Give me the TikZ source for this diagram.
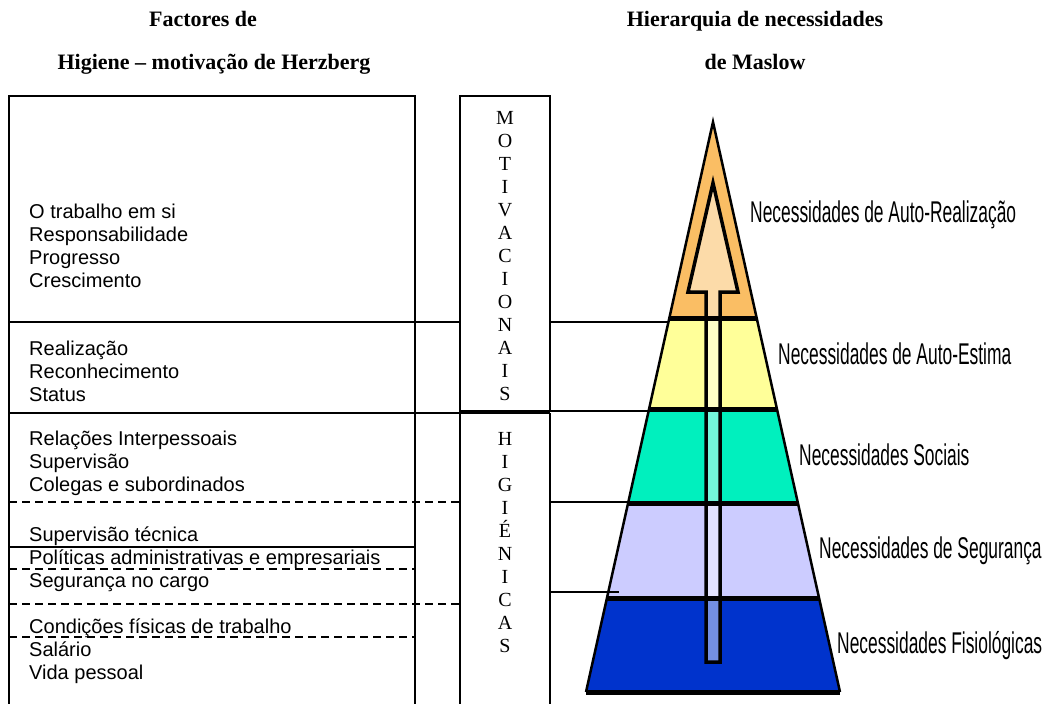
\documentclass[tikz,border=0pt]{standalone}
\usepackage{fontspec}
\setmainfont{Liberation Serif}
\newfontfamily\arialfont{Liberation Sans}
\newfontfamily\narrowfont[FakeStretch=0.58]{Liberation Sans}
\usetikzlibrary{calc}
\definecolor{mtop}{RGB}{250,190,100}
\definecolor{mesteem}{RGB}{255,255,153}
\definecolor{msocial}{RGB}{0,240,190}
\definecolor{msafe}{RGB}{204,204,255}
\definecolor{mbase}{RGB}{0,51,204}
\tikzset{
headline/.style={ % column titles
font=\bfseries\fontsize{22}{26}\selectfont,
anchor=base, inner sep=0pt},
factor/.style={ % Herzberg factor lists, placed by last baseline
font=\arialfont\fontsize{20}{23}\selectfont,
align=left, anchor=base west, inner sep=0pt},
vletters/.style={
font=\fontsize{20}{23}\selectfont,
align=center, anchor=base, inner sep=0pt},
need/.style={ % Maslow labels
font=\narrowfont\fontsize{30}{32}\selectfont,
anchor=base west, inner sep=0pt},
gridline/.style={line width=1.8pt},
dashline/.style={line width=1.8pt, dash pattern=on 8pt off 5pt}}

\begin{document}
\begin{tikzpicture}[x=1pt,y=-1pt]
\useasboundingbox (0,0) rectangle (1047,704);

\node[headline] (herz1) at (203,27) {Factores de};
\node[headline] (herz2) at (214,69) {Higiene -- motivação de Herzberg};
\node[headline] (mas1) at (755,27) {Hierarquia de necessidades};
\node[headline] (mas2) at (755,69) {de Maslow};

% Herzberg table
\draw[gridline] (9,704) -- (9,96) -- (415,96) -- (415,704);
\draw[gridline] (460,704) -- (460,96) -- (550,96) -- (550,411) -- (460,411);
\draw[gridline] (550,413) -- (550,704);
\draw[gridline] (9,322) -- (460,322);
\draw[gridline] (9,413) -- (550,413);
\draw[dashline] (9,502) -- (460,502);
\draw[gridline] (9,547) -- (415,547);
\draw[dashline] (9,569) -- (415,569);
\draw[dashline] (9,604) -- (460,604);
\draw[dashline] (9,637) -- (415,637);

\node[factor] (work) at (29,287) {O trabalho em si\\Responsabilidade\\Progresso\\Crescimento};
\node[factor] (recog) at (29,401) {Realização\\Reconhecimento\\Status};
\node[factor] (relat) at (29,491) {Relações Interpessoais\\Supervisão\\Colegas e subordinados};
\node[factor] (policy) at (29,587) {Supervisão técnica\\Políticas administrativas e empresariais\\Segurança no cargo};
\node[factor] (cond) at (29,679) {Condições físicas de trabalho\\Salário\\Vida pessoal};

\node[vletters] (motiv) at (505,400) {M\\O\\T\\I\\V\\A\\C\\I\\O\\N\\A\\I\\S};
\node[vletters] (hig) at (505,652) {H\\I\\G\\I\\É\\N\\I\\C\\A\\S};

% Maslow pyramid
\coordinate (apex) at (713,122);
\coordinate (bl) at (586,692);
\coordinate (br) at (840,692);
\foreach \ya/\yb/\col in {122/318/mtop, 318/410/mesteem, 410/503/msocial, 503/598/msafe, 598/692/mbase}
  \fill[\col] ($(apex)!{(\ya-122)/570}!(bl)$) -- ($(apex)!{(\yb-122)/570}!(bl)$)
    -- ($(apex)!{(\yb-122)/570}!(br)$) -- ($(apex)!{(\ya-122)/570}!(br)$) -- cycle;
\draw[line width=3.5pt, fill=white, fill opacity=0.45] (706,662) -- (706,292) -- (688,292)
  -- (713,183) -- (738,292) -- (720,292) -- (720,662) -- cycle;
\foreach \y in {318,410,503,598}
  \draw[line width=5pt] ($(apex)!{(\y-122)/570}!(bl)$) -- ($(apex)!{(\y-122)/570}!(br)$);
\draw[line width=2.5pt] (bl) -- (apex) -- (br);
\draw[line width=5pt] (bl) -- (br);

\coordinate (c1) at (550,322); \coordinate (p1) at (668,322);
\coordinate (c2) at (550,411); \coordinate (p2) at (648,411);
\coordinate (c3) at (550,502); \coordinate (p3) at (642,502);
\coordinate (c4) at (550,592); \coordinate (p4) at (619,592);
\foreach \i in {1,...,4}
  \draw[line width=1.5pt] (c\i) -- (p\i);

\node[need] (selfreal) at (750,222) {Necessidades de Auto-Realização};
\node[need] (esteem) at (778,364) {Necessidades de Auto-Estima};
\node[need] (social) at (799,465) {Necessidades Sociais};
\node[need] (safety) at (819,558) {Necessidades de Segurança};
\node[need] (physio) at (837,653) {Necessidades Fisiológicas};
\end{tikzpicture}
\end{document}
